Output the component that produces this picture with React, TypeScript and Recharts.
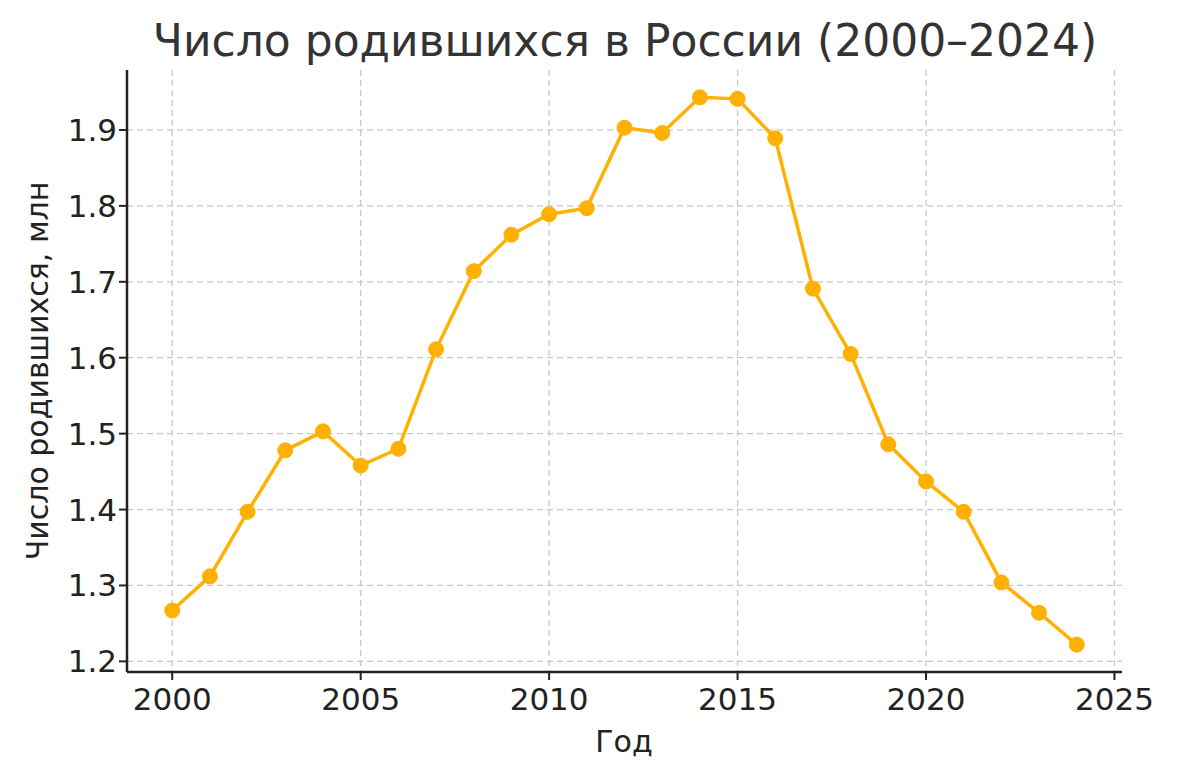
import { LineChart, Line, XAxis, YAxis, CartesianGrid } from "recharts";

const years = [
  2000, 2001, 2002, 2003, 2004, 2005, 2006, 2007, 2008, 2009, 2010, 2011, 2012,
  2013, 2014, 2015, 2016, 2017, 2018, 2019, 2020, 2021, 2022, 2023, 2024,
];
const births = [
  1.267, 1.312, 1.397, 1.478, 1.503, 1.458, 1.48, 1.611, 1.714, 1.762, 1.789,
  1.797, 1.903, 1.896, 1.943, 1.941, 1.889, 1.691, 1.605, 1.486, 1.437, 1.397,
  1.304, 1.264, 1.222,
];
const xTicks = [2000, 2005, 2010, 2015, 2020, 2025];
const yTicks = [1.2, 1.3, 1.4, 1.5, 1.6, 1.7, 1.8, 1.9];

const data = years.map((y, i) => ({ year: y, value: births[i] }));

const font = "'DejaVu Sans', sans-serif";
const ink = "#222";

export default function App() {
  return (
    <div style={{ position: "absolute", left: 0, top: 0, width: 1179, height: 780, fontFamily: font }}>
      <div
        style={{
          position: "absolute",
          left: 625,
          top: 40,
          transform: "translate(-50%, -50%)",
          whiteSpace: "nowrap",
          fontSize: 44,
          color: "#333",
        }}
      >
        Число родившихся в России (2000–2024)
      </div>
      <div
        style={{
          position: "absolute",
          left: 37,
          top: 371,
          transform: "translate(-50%, -50%) rotate(-90deg)",
          whiteSpace: "nowrap",
          fontSize: 30,
          color: ink,
        }}
      >
        Число родившихся, млн
      </div>
      <div
        style={{
          position: "absolute",
          left: 624,
          top: 741,
          transform: "translate(-50%, -50%)",
          fontSize: 30,
          color: ink,
        }}
      >
        Год
      </div>
      <LineChart
        width={1179}
        height={780}
        data={data}
        margin={{ top: 70, right: 57, bottom: 48, left: 0 }}
      >
        <CartesianGrid
          stroke="#c8c8c8"
          strokeDasharray="6 4"
          strokeWidth={1.3}
          horizontalValues={yTicks}
          verticalValues={xTicks}
        />
        <XAxis
          dataKey="year"
          type="number"
          domain={[1998.8, 2025.2]}
          ticks={xTicks}
          height={60}
          axisLine={{ stroke: ink, strokeWidth: 2.5 }}
          tickLine={{ stroke: ink, strokeWidth: 2 }}
          tickSize={8}
          tick={{ fill: ink, fontSize: 31, fontFamily: font, dy: 6 }}
          allowDataOverflow
        />
        <YAxis
          type="number"
          domain={[1.186, 1.979]}
          ticks={yTicks}
          width={127}
          axisLine={{ stroke: ink, strokeWidth: 2.5 }}
          tickLine={{ stroke: ink, strokeWidth: 2 }}
          tickSize={8}
          tickFormatter={(v: number) => v.toFixed(1)}
          tick={{ fill: ink, fontSize: 31, fontFamily: font }}
          allowDataOverflow
        />
        <Line
          dataKey="value"
          stroke="#FFB000"
          strokeWidth={3.5}
          dot={{ r: 7.5, fill: "#FFB000", stroke: "#FFB000", strokeWidth: 1 }}
          isAnimationActive={false}
        />
      </LineChart>
    </div>
  );
}
